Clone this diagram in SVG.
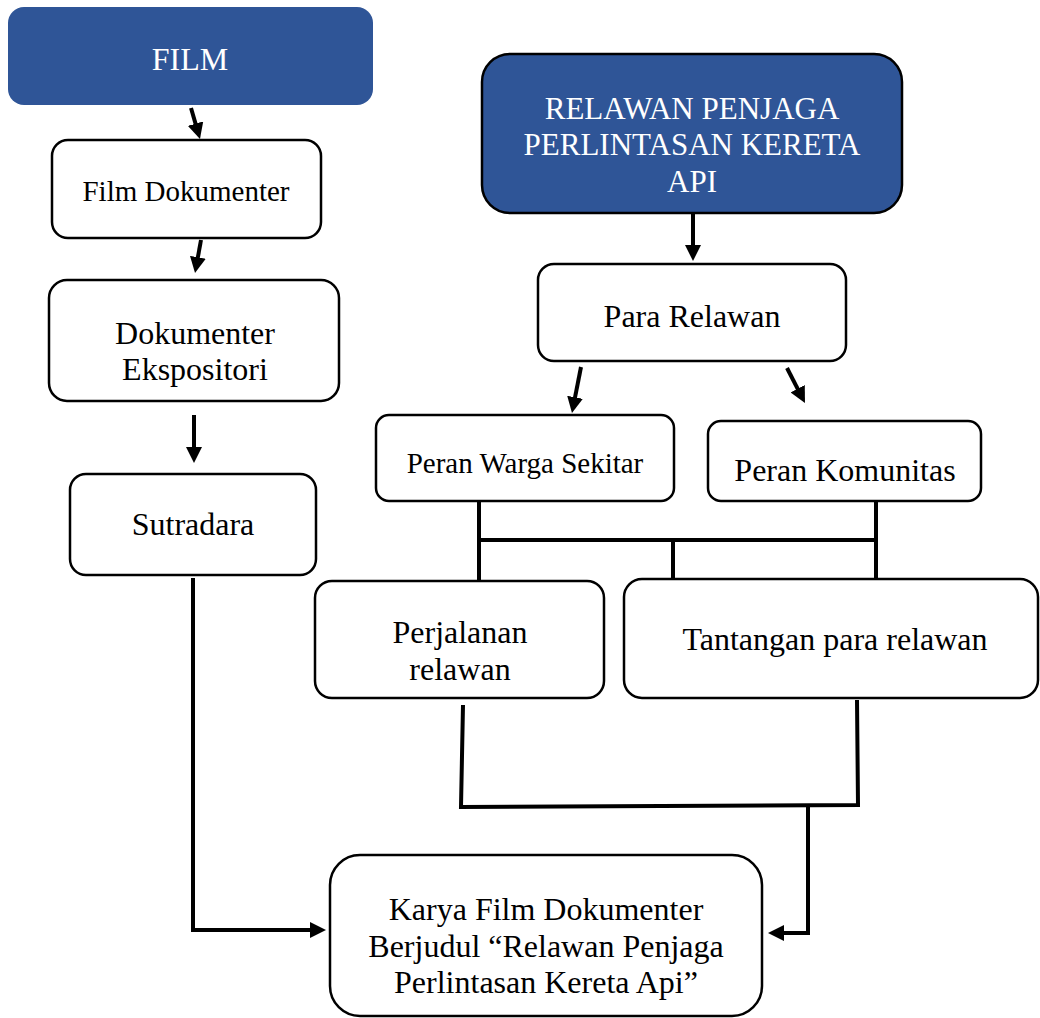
<svg xmlns="http://www.w3.org/2000/svg" width="1040" height="1018" viewBox="0 0 1040 1018">
<style>
.box{fill:#ffffff;stroke:#000000;stroke-width:2.5}
.blue{fill:#2F5597}
.t{font-family:"Liberation Serif","Times New Roman",serif;font-size:32px;fill:#000000;text-anchor:middle}
.w{fill:#ffffff}
.c{fill:none;stroke:#000000;stroke-width:4}
</style>
<defs>
<marker id="ah" viewBox="0 0 16 16" refX="6" refY="8" markerWidth="16" markerHeight="16" markerUnits="userSpaceOnUse" orient="auto">
<path d="M0,0 L16,8 L0,16 z" fill="#000000"/>
</marker>
</defs>
<rect width="1040" height="1018" fill="#ffffff"/>
<g id="connectors">
<path class="c" d="M191,108 L197.2,129.4" marker-end="url(#ah)"/>
<path class="c" d="M201,240 L196.8,263.2" marker-end="url(#ah)"/>
<path class="c" d="M194,415 L194,453" marker-end="url(#ah)"/>
<path class="c" d="M693,213 L693,251" marker-end="url(#ah)"/>
<path class="c" d="M581,367 L573.9,403.2" marker-end="url(#ah)"/>
<path class="c" d="M787,368 L800.4,394.1" marker-end="url(#ah)"/>
<path class="c" d="M193,578 V930 H316" marker-end="url(#ah)"/>
<path class="c" d="M479,502 V580"/>
<path class="c" d="M477,540 H878"/>
<path class="c" d="M876,502 V579"/>
<path class="c" d="M673,540 V578"/>
<path class="c" d="M463,705 L461,807 L858,805 L857,700"/>
<path class="c" d="M808,805 V933 H778" marker-end="url(#ah)"/>
</g>
<g id="film">
<rect class="blue" x="8" y="7" width="365" height="98" rx="16"/>
<text class="t w" x="190" y="70" font-size="31">FILM</text>
</g>
<g id="film-dokumenter">
<rect class="box" x="52" y="140" width="269" height="98" rx="16"/>
<text class="t" x="186" y="201" style="font-size:29px">Film Dokumenter</text>
</g>
<g id="dokumenter-ekspositori">
<rect class="box" x="49" y="280" width="290" height="121" rx="18"/>
<text class="t" x="195" y="344">Dokumenter</text>
<text class="t" x="195" y="380">Ekspositori</text>
</g>
<g id="sutradara">
<rect class="box" x="70" y="474" width="246" height="101" rx="16"/>
<text class="t" x="193" y="535">Sutradara</text>
</g>
<g id="relawan-penjaga">
<rect class="blue" x="482" y="54" width="420" height="159" rx="28" stroke="#000000" stroke-width="2.5"/>
<text class="t w" x="692" y="119" style="font-size:31px">RELAWAN PENJAGA</text>
<text class="t w" x="692" y="155" style="font-size:31px">PERLINTASAN KERETA</text>
<text class="t w" x="692" y="192" style="font-size:31px">API</text>
</g>
<g id="para-relawan">
<rect class="box" x="538" y="264" width="308" height="97" rx="16"/>
<text class="t" x="692" y="327">Para Relawan</text>
</g>
<g id="peran-warga">
<rect class="box" x="376" y="415" width="298" height="86" rx="13"/>
<text class="t" x="525" y="473" style="font-size:29px">Peran Warga Sekitar</text>
</g>
<g id="peran-komunitas">
<rect class="box" x="708" y="421" width="273" height="80" rx="13"/>
<text class="t" x="845" y="481">Peran Komunitas</text>
</g>
<g id="perjalanan-relawan">
<rect class="box" x="315" y="581" width="289" height="117" rx="17"/>
<text class="t" x="460" y="643">Perjalanan</text>
<text class="t" x="460" y="680">relawan</text>
</g>
<g id="tantangan">
<rect class="box" x="624" y="579" width="414" height="119" rx="18"/>
<text class="t" x="835" y="650">Tantangan para relawan</text>
</g>
<g id="karya">
<rect class="box" x="330" y="855" width="432" height="161" rx="30"/>
<text class="t" x="546" y="920">Karya Film Dokumenter</text>
<text class="t" x="546" y="957">Berjudul “Relawan Penjaga</text>
<text class="t" x="546" y="993">Perlintasan Kereta Api”</text>
</g>
</svg>
